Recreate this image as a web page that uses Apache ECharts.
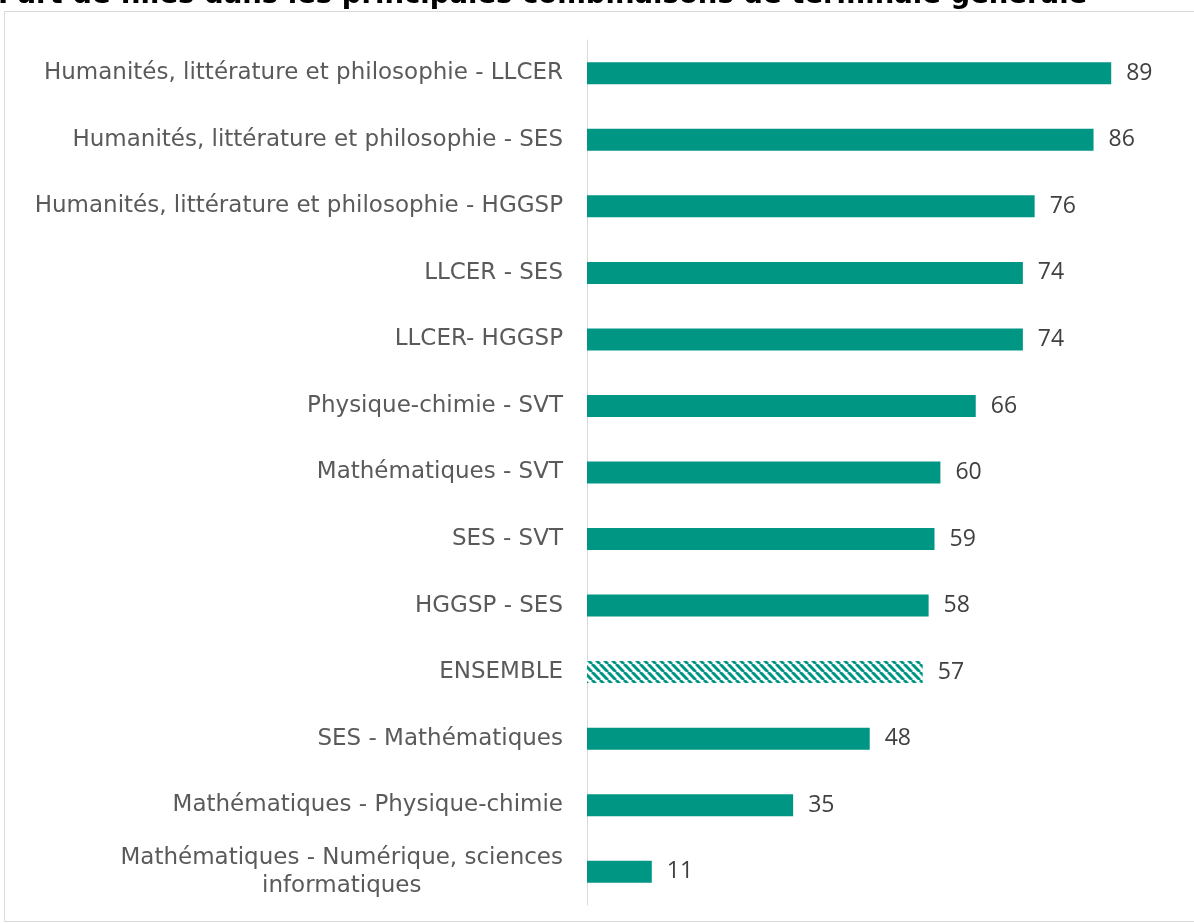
<!DOCTYPE html>
<html>
<head>
<meta charset="utf-8">
<script src="https://cdn.jsdelivr.net/npm/echarts@6/dist/echarts.min.js"></script>
<style>
html, body { margin: 0; padding: 0; background: #fff; }
#chart { width: 1194px; height: 923px; }
</style>
</head>
<body>
<div id="chart"></div>
<script>
// combinaisons, du bas vers le haut
var categories = [
	'Mathématiques - Numérique, sciences\ninformatiques',
	'Mathématiques - Physique-chimie',
	'SES - Mathématiques',
	'ENSEMBLE',
	'HGGSP - SES',
	'SES - SVT',
	'Mathématiques - SVT',
	'Physique-chimie - SVT',
	'LLCER- HGGSP',
	'LLCER - SES',
	'Humanités, littérature et philosophie - HGGSP',
	'Humanités, littérature et philosophie - SES',
	'Humanités, littérature et philosophie - LLCER'
];
var values = [11, 35, 48, 57, 58, 59, 60, 66, 74, 74, 76, 86, 89];
var totalLabel = 'ENSEMBLE';

var teal = '#009684';
var labelFont = '"DejaVu Sans", sans-serif';

/*
 * motif hachuré pour la barre ENSEMBLE
 */
function makeHatch() {
	var s = 8;
	var c = document.createElement('canvas');
	c.width = s;
	c.height = s;
	var ctx = c.getContext('2d');
	ctx.fillStyle = '#fff';
	ctx.fillRect(0, 0, s, s);
	ctx.strokeStyle = teal;
	ctx.lineWidth = 3;
	for (var k = -s; k <= 2 * s; k += s) {
		ctx.beginPath();
		ctx.moveTo(k, 0);
		ctx.lineTo(k + s, s);
		ctx.stroke();
	}
	return c;
}
var hatch = makeHatch();

var data = [];
for (var i = 0; i < values.length; i++) {
	var item = { value: values[i] };
	if (categories[i] == totalLabel) {
		item.itemStyle = { color: { image: hatch, repeat: 'repeat' } };
	}
	data.push(item);
}

var myChart = echarts.init(document.getElementById('chart'));
var option = {
	backgroundColor: '#fff',
	animation: false,
	title: {
		text: 'Part de filles dans les principales combinaisons de terminale générale',
		left: -2,
		top: -18,
		padding: 0,
		textStyle: {
			fontSize: 27.5,
			fontWeight: 'bold',
			fontFamily: '"DejaVu Sans", sans-serif',
			color: '#000'
		}
	},
	graphic: [{
		type: 'rect',
		shape: { x: 4.5, y: 11.5, width: 1300, height: 910 },
		style: { fill: 'none', stroke: '#d9d9d9', lineWidth: 1 },
		z: -1
	}],
	grid: {
		left: 587,
		right: 18,
		top: 40,
		bottom: 18
	},
	xAxis: {
		type: 'value',
		min: 0,
		max: 100,
		show: false
	},
	yAxis: {
		type: 'category',
		data: categories,
		axisLine: { show: true, lineStyle: { color: '#d9d9d9', width: 1 } },
		axisTick: { show: false },
		axisLabel: {
			margin: 24,
			color: '#5a5a5a',
			fontSize: 23,
			fontFamily: labelFont,
			lineHeight: 28,
			formatter: function (v) {
				if (v.indexOf('\n') >= 0) return '{c|' + v + '}';
				return v;
			},
			rich: {
				c: {
					align: 'center',
					color: '#5a5a5a',
					fontSize: 23,
					fontFamily: labelFont,
					lineHeight: 28
				}
			}
		}
	},
	series: [{
		type: 'bar',
		data: data,
		barWidth: 22,
		itemStyle: { color: teal },
		label: {
			show: true,
			position: 'right',
			distance: 15,
			color: '#404040',
			fontSize: 23,
			fontFamily: '"Open Sans", sans-serif'
		}
	}]
};
myChart.setOption(option);
</script>
</body>
</html>
